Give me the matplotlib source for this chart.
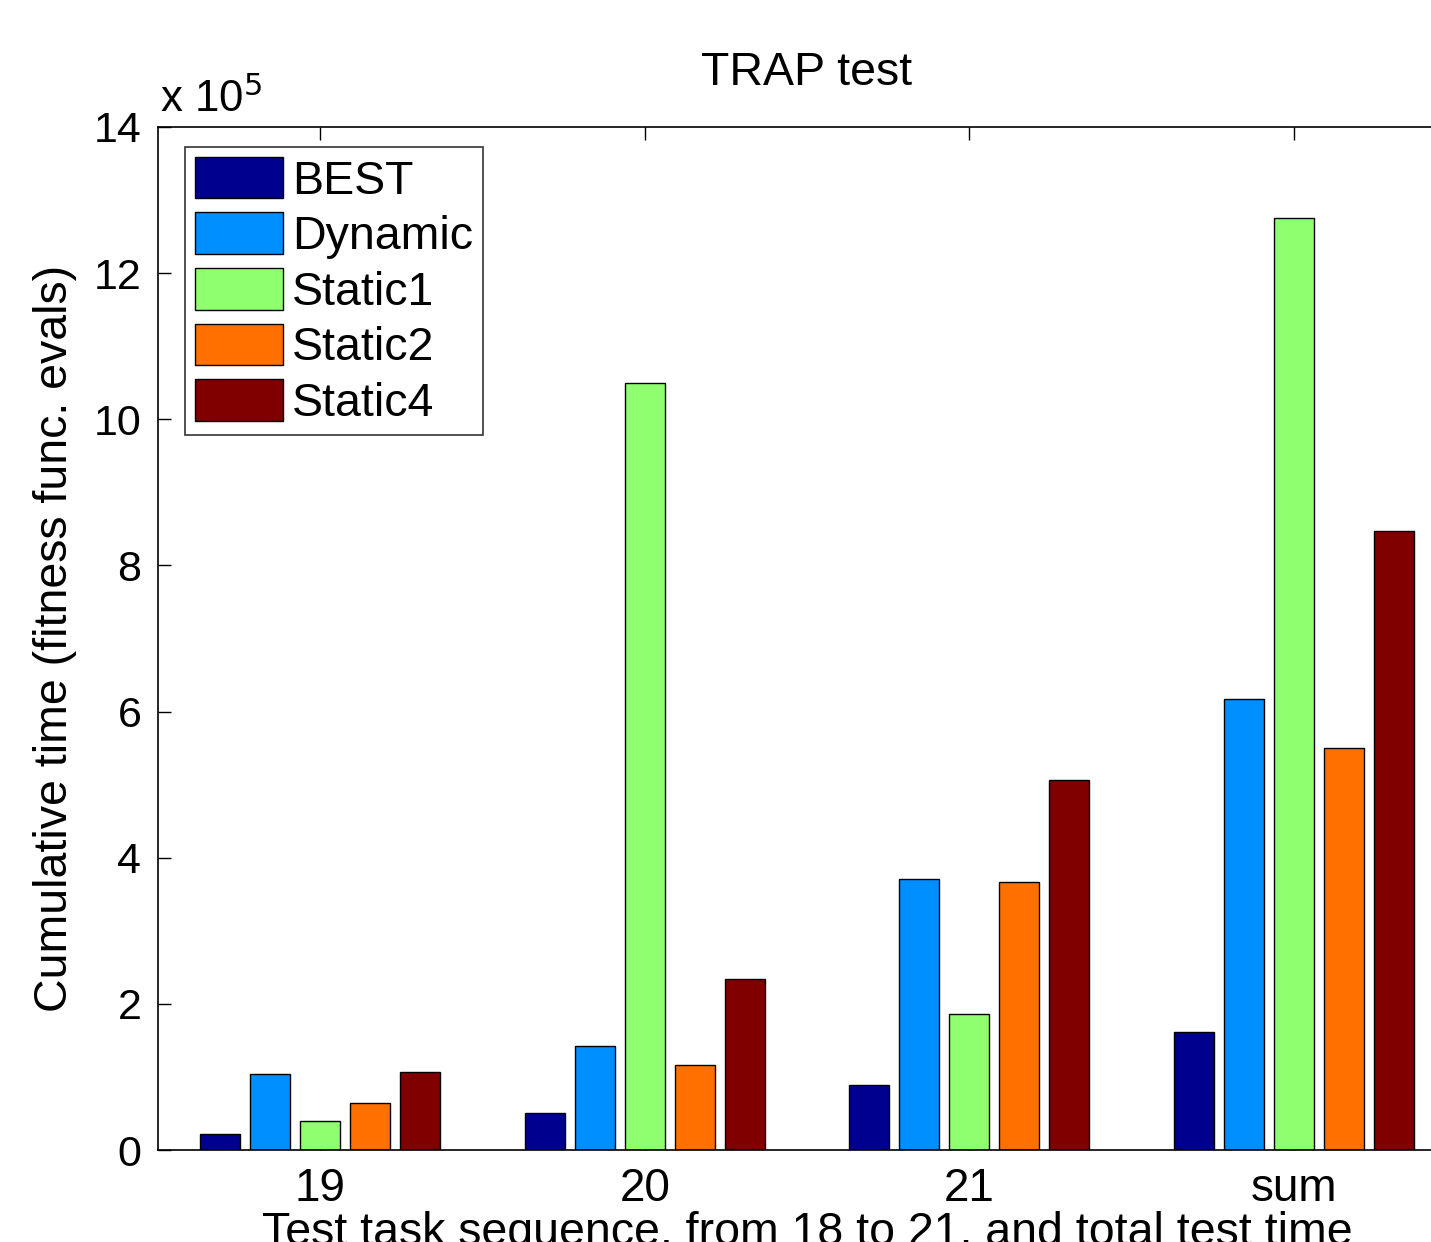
import matplotlib
matplotlib.use('Agg')
import matplotlib.pyplot as plt
import numpy as np

plt.rcParams['font.family'] = ['Liberation Sans', 'DejaVu Sans']

# values in units of 1e5 fitness function evaluations
groups = ['19', '20', '21', 'sum']
series = ['BEST', 'Dynamic', 'Static1', 'Static2', 'Static4']
best = [0.22, 0.51, 0.89, 1.62]
dynamic = [1.04, 1.42, 3.71, 6.17]
static1 = [0.40, 10.50, 1.865, 12.76]
static2 = [0.65, 1.17, 3.67, 5.50]
static4 = [1.07, 2.34, 5.06, 8.47]
colors = ['#00008f', '#008fff', '#8fff6f', '#ff7000', '#800000']

values = [best, dynamic, static1, static2, static4]

fig = plt.figure(figsize=(14.31, 12.42), dpi=100)
ax = fig.add_axes([158 / 1431, 92 / 1242, 1298 / 1431, 1023 / 1242])

x = np.arange(1, len(groups) + 1)
step = min(0.8, len(series) / (len(series) + 1.5)) / len(series)
for i, (name, vals, c) in enumerate(zip(series, values, colors)):
    offs = (i - (len(series) - 1) / 2) * step
    ax.bar(x + offs, vals, width=step * 0.8, color=c, edgecolor='black',
           linewidth=1.0, label=name, zorder=2)

ax.set_xlim(0.5, 4.5)
ax.set_ylim(0, 14)
ax.set_xticks(x)
ax.set_xticklabels(groups)
ax.set_yticks(np.arange(0, 15, 2))
ax.tick_params(direction='in', length=9, width=1, labelsize=31, top=True,
               right=True, pad=12)
ax.tick_params(axis='x', labelsize=33, pad=12)
for s in ax.spines.values():
    s.set_linewidth(1.2)

ax.set_title('TRAP test', fontsize=33.5, pad=30)
ax.set_ylabel('Cumulative time (fitness func. evals)', fontsize=33.5, labelpad=12)
# the reference figure crops the bottom of the x label
ax.set_xlabel('Test task sequence, from 18 to 21, and total test time',
              fontsize=33.5, labelpad=0)

fig.text(160 / 1431, 1 - 112 / 1242, r'x 10$^{5}$', fontsize=31.5,
         ha='left', va='baseline')

leg = ax.legend(loc='upper left', bbox_to_anchor=(0.021, 0.98), fontsize=33.5,
                frameon=True, fancybox=False, edgecolor='black',
                handlelength=1.9, handleheight=1.0, handletextpad=0.2,
                labelspacing=0.19, borderpad=0.2, borderaxespad=0)
leg.get_frame().set_linewidth(1.2)

fig.savefig('out.png', dpi=100)
